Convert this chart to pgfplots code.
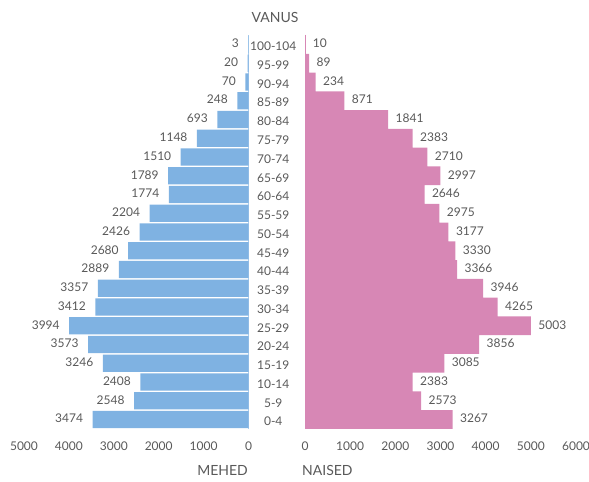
\documentclass[border=0pt]{standalone}
\usepackage{fontspec}
\setmainfont{Lato}
\usepackage{pgfplots}
\pgfplotsset{compat=1.18}

\definecolor{menblue}{RGB}{127,178,226}
\definecolor{womenpink}{RGB}{215,135,181}
\definecolor{txt}{RGB}{89,89,89}

\pgfplotstableread{
idx men women
0  3474 3267
1  2548 2573
2  2408 2383
3  3246 3085
4  3573 3856
5  3994 5003
6  3412 4265
7  3357 3946
8  2889 3366
9  2680 3330
10 2426 3177
11 2204 2975
12 1774 2646
13 1789 2997
14 1510 2710
15 1148 2383
16 693  1841
17 248  871
18 70   234
19 20   89
20 3    10
}\pyramid

\pgfplotsset{
  pyr/.style={
    scale only axis,
    height=394bp,
    ymin=-0.5, ymax=20.5,
    xmin=0,
    xbar, bar width=0.92,
    axis line style={draw=none},
    major tick style={draw=none},
    ytick=\empty,
    xtick distance=1000,
    scaled x ticks=false,
    /pgf/number format/1000 sep={},
    /pgf/number format/assume math mode=true,
    ticklabel style={font=\fontsize{12bp}{14bp}\selectfont, text=txt},
    xticklabel style={yshift=-9bp},
    nodes near coords,
    nodes near coords style={font=\fontsize{12bp}{14bp}\selectfont, text=txt, yshift=1bp},
    point meta=explicit,
  },
}

\begin{document}
\begin{tikzpicture}
\path[use as bounding box] (0,0) rectangle (589bp,482bp);

% men, left side
\begin{axis}[pyr, at={(24bp,53bp)}, anchor=south west, width=224.5bp,
  xmax=5000, x dir=reverse,
  nodes near coords style={anchor=east, xshift=-6bp}]
\addplot[draw=none, fill=menblue] table[x=men, y=idx, meta=men] {\pyramid};
\draw[menblue, line width=0.8pt] (axis cs:0,-0.5) -- (axis cs:0,20.5);
\end{axis}

% women, right side
\begin{axis}[pyr, at={(305bp,53bp)}, anchor=south west, width=271bp,
  xmax=6000, bar width=1,
  ytick={0,...,20},
  yticklabels={0-4,5-9,10-14,15-19,20-24,25-29,30-34,35-39,40-44,45-49,50-54,55-59,60-64,65-69,70-74,75-79,80-84,85-89,90-94,95-99,100-104},
  yticklabel style={anchor=center, xshift=-27.5bp, yshift=-2bp},
  nodes near coords style={anchor=west, xshift=4bp}]
\addplot[draw=none, fill=womenpink] table[x=women, y=idx, meta=women] {\pyramid};
\draw[womenpink, line width=0.8pt] (axis cs:0,-0.5) -- (axis cs:0,20.5);
\end{axis}

\node[text=txt, font=\fontsize{14bp}{16bp}\selectfont] at (275bp,465bp) {VANUS};
\node[text=txt, font=\fontsize{14bp}{16bp}\selectfont, anchor=east, inner sep=0pt] at (248bp,12bp) {MEHED};
\node[text=txt, font=\fontsize{14bp}{16bp}\selectfont, anchor=west, inner sep=0pt] at (302bp,12bp) {NAISED};
\end{tikzpicture}
\end{document}
